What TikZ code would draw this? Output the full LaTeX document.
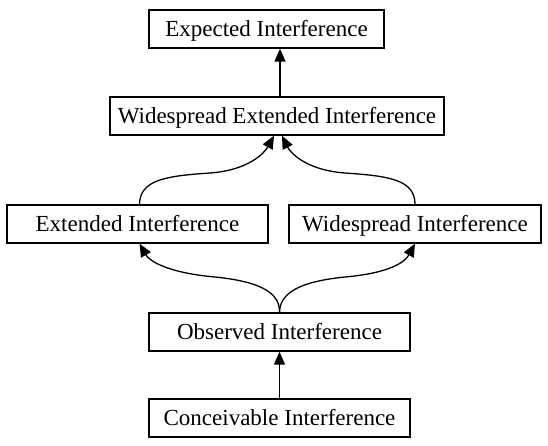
\documentclass[tikz,border=0pt]{standalone}
\usepackage{fontspec}
\setmainfont{Liberation Serif}
\usetikzlibrary{arrows.meta}
\begin{document}
\begin{tikzpicture}[x=1pt,y=-1pt,
  box/.style={draw,line width=1.3pt,rectangle,minimum height=38pt,inner sep=0pt,
    text height=17.5pt,text depth=2.5pt,
    font=\fontsize{23}{26}\selectfont},
  conn/.style={line width=1.3pt,-{Triangle[length=13pt,width=11pt]}}]
\useasboundingbox (0,0) rectangle (548,445);
\node[box,minimum width=235pt] (exp) at (266.5,29) {Expected Interference};
\node[box,minimum width=334pt] (we) at (277,116) {Widespread Extended Interference};
\node[box,minimum width=261pt] (ext) at (137.5,224) {Extended Interference};
\node[box,minimum width=252pt] (wid) at (415,224) {Widespread Interference};
\node[box,minimum width=261pt] (obs) at (279.5,332) {Observed Interference};
\node[box,minimum width=261pt] (con) at (279.5,418) {Conceivable Interference};
\draw[conn] (con.north) -- (obs.south);
\draw[conn] ([xshift=3pt]we.north) -- ([xshift=3pt]we.north |- exp.south);
\draw[conn] ([xshift=2pt]ext.north) .. controls (140,180) and (165,176) .. (210,173)
  .. controls (250,170) and (265,152) .. ([xshift=-3pt]we.south);
\draw[conn] (wid.north) .. controls (415,180) and (390,176) .. (345,173)
  .. controls (305,170) and (290,152) .. ([xshift=5pt]we.south);
\draw[conn] (obs.north) .. controls (280,295) and (265,282) .. (215,277)
  .. controls (170,273) and (150,262) .. ([xshift=2pt]ext.south);
\draw[conn] (obs.north) .. controls (280,295) and (295,282) .. (345,277)
  .. controls (390,273) and (405,262) .. (wid.south);
\end{tikzpicture}
\end{document}
